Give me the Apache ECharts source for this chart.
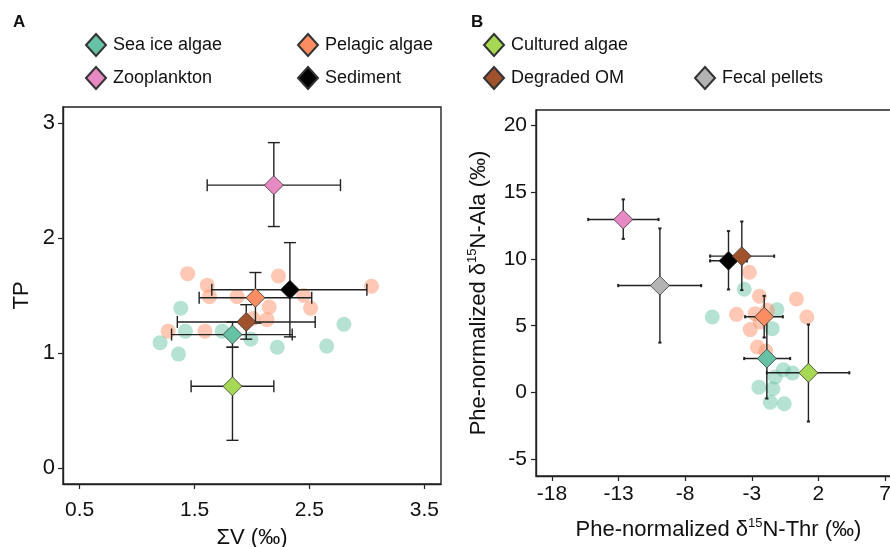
<!DOCTYPE html>
<html>
<head>
<meta charset="utf-8">
<script src="https://cdn.jsdelivr.net/npm/echarts@6.0.0/dist/echarts.min.js"></script>
<style>
  html, body { margin: 0; padding: 0; background: #fff; }
  #chart { width: 890px; height: 547px; }
</style>
</head>
<body>
<div id="chart"></div>
<script>
// groups (legend order)
var groups = ['Sea ice algae', 'Pelagic algae', 'Cultured algae', 'Zooplankton', 'Sediment', 'Degraded OM', 'Fecal pellets'];
var groupColors = ['#66c2a5', '#fc8d62', '#a6d854', '#e78ac3', '#000000', '#a0522d', '#b3b3b3'];

// panel A: group means and error ranges (null = not shown)
var aMeanX = [1.83, 2.03, 1.83, 2.19, 2.33, 1.95, null];
var aMeanY = [1.16, 1.48, 0.71, 2.46, 1.55, 1.27, null];
var aXLo   = [1.30, 1.54, 1.47, 1.61, 1.65, 1.35, null];
var aXHi   = [2.35, 2.52, 2.19, 2.77, 3.00, 2.55, null];
var aYLo   = [1.05, 1.26, 0.24, 2.10, 1.14, 1.12, null];
var aYHi   = [1.27, 1.70, 1.05, 2.83, 1.96, 1.42, null];

// panel A: individual samples
var aIceX = [1.38, 1.42, 1.20, 1.36, 1.74, 1.99, 2.22, 2.65, 2.80];
var aIceY = [1.39, 1.19, 1.09, 0.99, 1.19, 1.12, 1.05, 1.06, 1.25];
var aPelX = [1.44, 1.61, 1.63, 1.87, 2.23, 2.45, 2.51, 2.15, 2.13, 2.01, 1.59, 1.27, 3.04];
var aPelY = [1.69, 1.59, 1.49, 1.49, 1.67, 1.50, 1.39, 1.40, 1.29, 1.30, 1.19, 1.19, 1.58];

// panel B: group means and error ranges
var bMeanX = [-1.87, -2.07, 1.25, -12.65, -4.75, -3.75, -9.9];
var bMeanY = [2.55, 5.67, 1.48, 12.94, 9.85, 10.2, 8.0];
var bXLo   = [-3.57, -3.50, -1.87, -15.28, -6.13, -6.13, -13.03];
var bXHi   = [-0.12, -0.67, 4.32, -10.0, -3.37, -1.32, -6.8];
var bYLo   = [-0.44, 4.12, -2.16, 11.49, 7.71, 7.66, 3.74];
var bYHi   = [5.54, 7.23, 5.09, 14.44, 12.07, 12.79, 12.27];

// panel B: individual samples
var bIceX = [-3.57, -5.97, -1.12, -1.47, -1.25, -0.63, 0.05, -2.47, -1.42, -1.62, -0.57];
var bIceY = [7.72, 5.65, 6.20, 4.78, 1.16, 1.71, 1.46, 0.41, 0.29, -0.71, -0.83];
var bPelX = [-3.18, -2.43, 0.35, -4.15, -2.75, -1.83, 1.13, -3.12, -2.37, -2.58, -1.95];
var bPelY = [9.00, 7.20, 7.00, 5.85, 5.90, 6.15, 5.65, 4.71, 5.28, 3.41, 3.11];

// axis ticks
var aXTicks = [0.5, 1.5, 2.5, 3.5];
var aYTicks = [0, 1, 2, 3];
var bXTicks = [-18, -13, -8, -3, 2, 7];
var bYTicks = [-5, 0, 5, 10, 15, 20];

var FONT = '"Liberation Sans", Arial, sans-serif';

function zip(xs, ys) {
  var out = [];
  for (var i = 0; i < xs.length; i++) out.push([xs[i], ys[i]]);
  return out;
}

function errorBarSeries(axisIdx, mx, my, xlo, xhi, ylo, yhi, cap, capWidth) {
  var data = [];
  for (var i = 0; i < mx.length; i++) {
    if (mx[i] == null) continue;
    data.push([mx[i], my[i], xlo[i], xhi[i], ylo[i], yhi[i]]);
  }
  return {
    type: 'custom',
    xAxisIndex: axisIdx,
    yAxisIndex: axisIdx,
    z: 3,
    silent: true,
    encode: { x: 0, y: 1 },
    data: data,
    renderItem: function (params, api) {
      var x = api.value(0), y = api.value(1);
      var l = api.coord([api.value(2), y]);
      var r = api.coord([api.value(3), y]);
      var b = api.coord([x, api.value(4)]);
      var t = api.coord([x, api.value(5)]);
      var st = { stroke: '#222', lineWidth: 1.4 };
      var cst = { stroke: '#222', lineWidth: capWidth };
      return {
        type: 'group',
        children: [
          { type: 'line', shape: { x1: l[0], y1: l[1], x2: r[0], y2: r[1] }, style: st },
          { type: 'line', shape: { x1: t[0], y1: t[1], x2: b[0], y2: b[1] }, style: st },
          { type: 'line', shape: { x1: l[0], y1: l[1] - cap, x2: l[0], y2: l[1] + cap }, style: cst },
          { type: 'line', shape: { x1: r[0], y1: r[1] - cap, x2: r[0], y2: r[1] + cap }, style: cst },
          { type: 'line', shape: { x1: t[0] - cap, y1: t[1], x2: t[0] + cap, y2: t[1] }, style: cst },
          { type: 'line', shape: { x1: b[0] - cap, y1: b[1], x2: b[0] + cap, y2: b[1] }, style: cst }
        ]
      };
    }
  };
}

function sampleSeries(axisIdx, xs, ys, color) {
  return {
    type: 'scatter',
    xAxisIndex: axisIdx,
    yAxisIndex: axisIdx,
    z: 2,
    symbol: 'circle',
    symbolSize: 15,
    itemStyle: { color: color, opacity: 0.48 },
    data: zip(xs, ys)
  };
}

function meanSeries(axisIdx, mx, my) {
  var list = [];
  for (var i = 0; i < groups.length; i++) {
    if (mx[i] == null) continue;
    list.push({
      name: groups[i],
      type: 'scatter',
      xAxisIndex: axisIdx,
      yAxisIndex: axisIdx,
      z: 4,
      symbol: 'diamond',
      symbolSize: 19,
      itemStyle: { color: groupColors[i], borderColor: '#333', borderWidth: 0.8, opacity: 1 },
      data: [[mx[i], my[i]]]
    });
  }
  return list;
}

var series = [].concat(
  [sampleSeries(0, aIceX, aIceY, groupColors[0]), sampleSeries(0, aPelX, aPelY, groupColors[1])],
  [errorBarSeries(0, aMeanX, aMeanY, aXLo, aXHi, aYLo, aYHi, 6, 1.4)],
  meanSeries(0, aMeanX, aMeanY),
  [sampleSeries(1, bIceX, bIceY, groupColors[0]), sampleSeries(1, bPelX, bPelY, groupColors[1])],
  [errorBarSeries(1, bMeanX, bMeanY, bXLo, bXHi, bYLo, bYHi, 1.6, 2)],
  meanSeries(1, bMeanX, bMeanY)
);

// legend slots: [left, top]
var legendPos = [[80, 28], [292, 28], [478, 28], [80, 61], [292, 61], [478, 61], [689, 61]];
var legends = groups.map(function (g, i) {
  return {
    left: legendPos[i][0],
    top: legendPos[i][1],
    data: [g],
    icon: 'diamond',
    itemWidth: 20,
    itemHeight: 22,
    itemGap: 0,
    selectedMode: false,
    textStyle: { fontFamily: FONT, fontSize: 18, color: '#111', padding: [0, 0, 0, 2] }
  };
});

var axisCommon = {
  axisLine: { show: true, onZero: false, lineStyle: { color: '#222', width: 1.4 } },
  axisTick: { show: true, length: 5, lineStyle: { color: '#222', width: 1.2 } },
  splitLine: { show: false },
  nameLocation: 'middle'
};

function axis(extra) {
  return echarts.util.merge(echarts.util.clone(axisCommon), extra, true);
}

var supRich = { sup: { fontSize: 13, verticalAlign: 'top', lineHeight: 26, fontFamily: FONT, color: '#111' } };

var option = {
  animation: false,
  backgroundColor: '#fff',
  textStyle: { fontFamily: FONT },
  legend: legends,
  graphic: [
    { type: 'text', left: 13, top: 14, style: { text: 'A', font: 'bold 17px ' + FONT, fill: '#111' } },
    { type: 'text', left: 471, top: 14, style: { text: 'B', font: 'bold 17px ' + FONT, fill: '#111' } }
  ],
  grid: [
    { left: 63, top: 107, width: 378, height: 377, show: true, borderColor: '#222', borderWidth: 1.4, outerBoundsMode: 'none', containLabel: false },
    { left: 536, top: 110, width: 365, height: 366, show: true, borderColor: '#222', borderWidth: 1.4, outerBoundsMode: 'none', containLabel: false }
  ],
  xAxis: [
    axis({
      type: 'value', gridIndex: 0, min: 0.355, max: 3.645,
      axisTick: { customValues: aXTicks },
      axisLabel: { customValues: aXTicks, margin: 16, fontSize: 21, color: '#111', fontFamily: FONT },
      name: 'ΣV (‰)', nameGap: 43,
      nameTextStyle: { fontSize: 22, color: '#111', fontFamily: FONT }
    }),
    axis({
      type: 'value', gridIndex: 1, min: -19.2, max: 8.2,
      axisTick: { customValues: bXTicks },
      axisLabel: { customValues: bXTicks, showMaxLabel: true, hideOverlap: false, margin: 8, fontSize: 21, color: '#111', fontFamily: FONT },
      name: 'Phe-normalized δ{sup|15}N-Thr (‰)', nameGap: 41,
      nameTextStyle: { fontSize: 22, color: '#111', fontFamily: FONT, lineHeight: 26, rich: supRich }
    })
  ],
  yAxis: [
    axis({
      type: 'value', gridIndex: 0, min: -0.14, max: 3.14,
      axisTick: { customValues: aYTicks },
      axisLabel: { customValues: aYTicks, margin: 8, fontSize: 22, color: '#111', fontFamily: FONT },
      name: 'TP', nameGap: 30,
      nameTextStyle: { fontSize: 22, color: '#111', fontFamily: FONT }
    }),
    axis({
      type: 'value', gridIndex: 1, min: -6.23, max: 21.12,
      axisTick: { customValues: bYTicks },
      axisLabel: { customValues: bYTicks, margin: 9, fontSize: 21, color: '#111', fontFamily: FONT },
      name: 'Phe-normalized δ{sup|15}N-Ala (‰)', nameGap: 44,
      nameTextStyle: { fontSize: 22, color: '#111', fontFamily: FONT, lineHeight: 26, rich: supRich }
    })
  ],
  series: series
};

var chart = echarts.init(document.getElementById('chart'));
chart.setOption(option);
</script>
</body>
</html>
